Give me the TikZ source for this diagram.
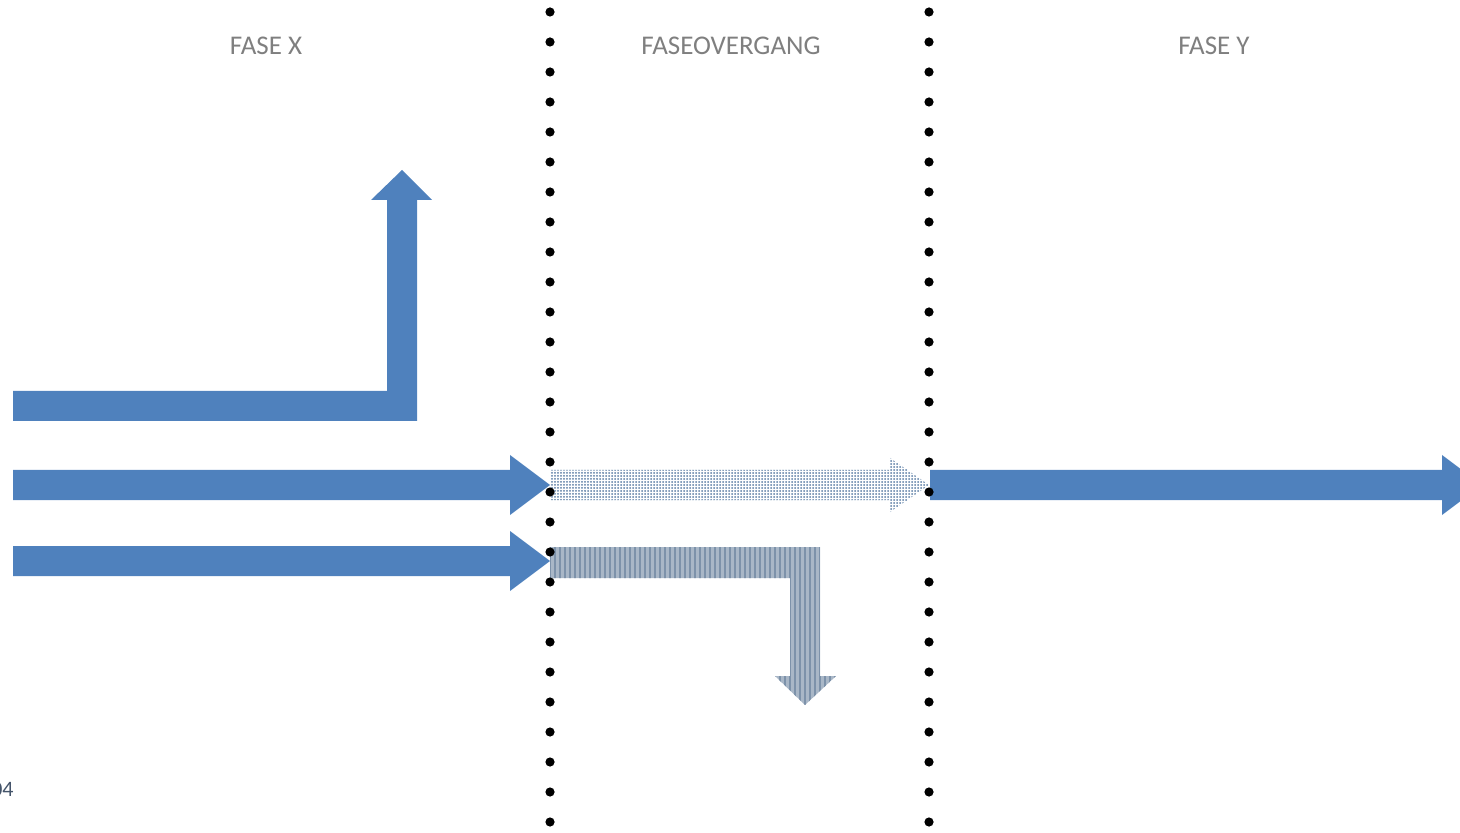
\documentclass[tikz,border=0pt]{standalone}
\usepackage{fontspec}
\setmainfont{Carlito}
\usetikzlibrary{patterns.meta}
\definecolor{officeblue}{HTML}{4F81BD}
\definecolor{dotblue}{HTML}{5A7CA3}
\definecolor{stripegray}{HTML}{A9B7C7}
\definecolor{stripedark}{HTML}{7D92AA}
\definecolor{labelgray}{HTML}{7F7F7F}
\definecolor{pagegray}{HTML}{44546A}

\begin{document}
\begin{tikzpicture}[x=0.5pt,y=-0.5pt]
\tikzstyle{phase} = [font=\fontsize{13.5}{16}\selectfont,text=labelgray,anchor=center]
\tikzstyle{flow} = [fill=officeblue]
\tikzstyle{dotflow} = [pattern={Dots[distance=1.5pt,radius=0.5pt]},pattern color=dotblue]
\tikzstyle{lineflow} = [preaction={fill=stripegray},pattern={Lines[angle=90,distance=2.5pt,line width=0.9pt]},pattern color=stripedark]

\useasboundingbox (0,0) rectangle (1460,833);
\clip (0,0) rectangle (1460,833);

% phase labels
\node [phase] (fasex) at (266,46) {FASE X};
\node [phase] (overgang) at (731,46) {FASEOVERGANG};
\node [phase] (fasey) at (1214,46) {FASE Y};
\node [font=\fontsize{11}{13}\selectfont,text=pagegray,anchor=east,inner xsep=0pt] (pagenr) at (14,789) {04};

% phase X arrows
\fill [flow] (13,391) -- (387,391) -- (387,200) -- (371,200) -- (402,170) -- (432,200)
  -- (417,200) -- (417,421) -- (13,421) -- cycle;
\fill [flow] (13,470) -- (510,470) -- (510,455) -- (550,485) -- (510,515) -- (510,500) -- (13,500) -- cycle;
\fill [flow] (13,546) -- (510,546) -- (510,531) -- (550,561) -- (510,591) -- (510,576) -- (13,576) -- cycle;

% transition
\fill [dotflow] (550,470) -- (890,470) -- (890,458) -- (929,485) -- (890,512) -- (890,500) -- (550,500) -- cycle;
\fill [lineflow] (550,547) -- (820,547) -- (820,676) -- (836,676) -- (805,705) -- (775,676)
  -- (790,676) -- (790,578) -- (550,578) -- cycle;

% phase Y
\fill [flow] (930,470) -- (1442,470) -- (1442,455) -- (1482,485) -- (1442,515) -- (1442,500) -- (930,500) -- cycle;

% borders
\foreach \k in {0,...,27} {
  \fill (550,12+30*\k) circle (2.3pt);
  \fill (929,12+30*\k) circle (2.3pt);
}
\end{tikzpicture}
\end{document}
